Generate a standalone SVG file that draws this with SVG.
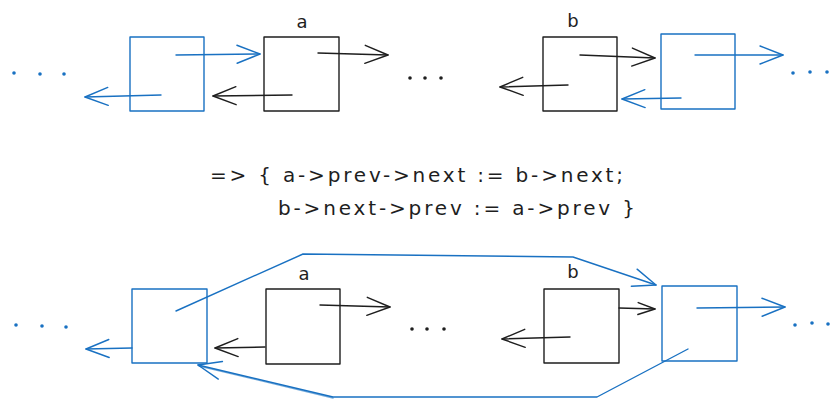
<svg xmlns="http://www.w3.org/2000/svg" width="830" height="400" viewBox="0 0 830 400">
  <style>
    .blue { stroke: #1971c2; fill: none; stroke-width: 1.4; stroke-linecap: round; stroke-linejoin: round; }
    .ink { stroke: #1e1e1e; fill: none; stroke-width: 1.4; stroke-linecap: round; stroke-linejoin: round; }
    .dotb { fill: #1971c2; }
    .dotk { fill: #1e1e1e; }
    .lbl { font-family: "DejaVu Sans", "Liberation Sans", sans-serif; font-size: 18px; fill: #1e1e1e; }
    .code { font-family: "DejaVu Sans", "Liberation Sans", sans-serif; font-size: 20px; fill: #1e1e1e; }
  </style>
  <defs>
    <marker id="hb" markerUnits="userSpaceOnUse" markerWidth="30" markerHeight="24" refX="0" refY="0" viewBox="-26 -12 30 24" orient="auto" overflow="visible">
      <path d="M -23 -9 L 0 0 L -23 9" stroke="#1971c2" fill="none" stroke-width="1.4" stroke-linecap="round" stroke-linejoin="round"/>
    </marker>
    <marker id="hk" markerUnits="userSpaceOnUse" markerWidth="30" markerHeight="24" refX="0" refY="0" viewBox="-26 -12 30 24" orient="auto" overflow="visible">
      <path d="M -23 -9 L 0 0 L -23 9" stroke="#1e1e1e" fill="none" stroke-width="1.4" stroke-linecap="round" stroke-linejoin="round"/>
    </marker>
    <marker id="hks" markerUnits="userSpaceOnUse" markerWidth="24" markerHeight="16" refX="0" refY="0" viewBox="-20 -8 24 16" orient="auto" overflow="visible">
      <path d="M -17 -6 L 0 0 L -17 6" stroke="#1e1e1e" fill="none" stroke-width="1.4" stroke-linecap="round" stroke-linejoin="round"/>
    </marker>
  </defs>

  <!-- top row: list before unlinking -->
  <g id="top-dots-left">
    <circle class="dotb" cx="14" cy="73" r="1.8"/>
    <circle class="dotb" cx="40" cy="74" r="1.8"/>
    <circle class="dotb" cx="64" cy="74" r="1.8"/>
  </g>
  <g id="top-prev-node">
    <rect class="blue" x="130" y="37" width="74" height="74"/>
  </g>
  <g id="top-node-a">
    <rect class="ink" x="264" y="37" width="75" height="74"/>
    <text class="lbl" x="302" y="28" text-anchor="middle">a</text>
  </g>
  <g id="top-dots-mid">
    <circle class="dotk" cx="410" cy="78" r="1.8"/>
    <circle class="dotk" cx="425" cy="78" r="1.8"/>
    <circle class="dotk" cx="441" cy="78" r="1.8"/>
  </g>
  <g id="top-node-b">
    <rect class="ink" x="543" y="37" width="74" height="74"/>
    <text class="lbl" x="573" y="27" text-anchor="middle">b</text>
  </g>
  <g id="top-next-node">
    <rect class="blue" x="661" y="34" width="74" height="75"/>
  </g>
  <g id="top-dots-right">
    <circle class="dotb" cx="793" cy="73" r="1.8"/>
    <circle class="dotb" cx="810" cy="72" r="1.8"/>
    <circle class="dotb" cx="827" cy="72" r="1.8"/>
  </g>
  <g id="top-connectors">
    <path class="blue" d="M 176 55 L 260 54" marker-end="url(#hb)"/>
    <path class="blue" d="M 161 95 L 85 97" marker-end="url(#hb)"/>
    <path class="ink" d="M 318 53 L 388 55" marker-end="url(#hk)"/>
    <path class="ink" d="M 292 95 L 213 96" marker-end="url(#hk)"/>
    <path class="ink" d="M 580 55 L 655 58" marker-end="url(#hk)"/>
    <path class="ink" d="M 568 85 L 500 87" marker-end="url(#hk)"/>
    <path class="blue" d="M 695 55 L 783 55" marker-end="url(#hb)"/>
    <path class="blue" d="M 681 98 L 622 99" marker-end="url(#hb)"/>
  </g>

  <!-- the unlink operation -->
  <g id="code">
    <text class="code" x="210" y="182" textLength="413" lengthAdjust="spacing">=&gt; { a-&gt;prev-&gt;next := b-&gt;next;</text>
    <text class="code" x="278" y="215" textLength="357" lengthAdjust="spacing">b-&gt;next-&gt;prev := a-&gt;prev }</text>
  </g>

  <!-- bottom row: list after unlinking -->
  <g id="bot-dots-left">
    <circle class="dotb" cx="16" cy="325" r="1.8"/>
    <circle class="dotb" cx="42" cy="326" r="1.8"/>
    <circle class="dotb" cx="66" cy="327" r="1.8"/>
  </g>
  <g id="bot-prev-node">
    <rect class="blue" x="132" y="289" width="75" height="74"/>
  </g>
  <g id="bot-node-a">
    <rect class="ink" x="266" y="289" width="74" height="75"/>
    <text class="lbl" x="304" y="280" text-anchor="middle">a</text>
  </g>
  <g id="bot-dots-mid">
    <circle class="dotk" cx="412" cy="329" r="1.8"/>
    <circle class="dotk" cx="427" cy="329" r="1.8"/>
    <circle class="dotk" cx="444" cy="329" r="1.8"/>
  </g>
  <g id="bot-node-b">
    <rect class="ink" x="544" y="289" width="75" height="74"/>
    <text class="lbl" x="573" y="278" text-anchor="middle">b</text>
  </g>
  <g id="bot-next-node">
    <rect class="blue" x="662" y="286" width="75" height="75"/>
  </g>
  <g id="bot-dots-right">
    <circle class="dotb" cx="795" cy="325" r="1.8"/>
    <circle class="dotb" cx="812" cy="323" r="1.8"/>
    <circle class="dotb" cx="828" cy="324" r="1.8"/>
  </g>
  <g id="bot-connectors">
    <path class="blue" d="M 132 348 L 86 349" marker-end="url(#hb)"/>
    <path class="blue" d="M 176 311 L 303 254 L 573 257 L 656 285" marker-end="url(#hb)"/>
    <path class="blue" d="M 688 349 L 597 397 L 333 397 L 198 365" marker-end="url(#hb)"/>
    <path class="blue" d="M 333 398 L 199 366" stroke-opacity="0.6"/>
    <path class="ink" d="M 320 305 L 390 307" marker-end="url(#hk)"/>
    <path class="ink" d="M 265 347 L 215 348" marker-end="url(#hk)"/>
    <path class="ink" d="M 619 308 L 655 309" marker-end="url(#hks)"/>
    <path class="ink" d="M 570 337 L 502 339" marker-end="url(#hk)"/>
    <path class="blue" d="M 697 308 L 785 307" marker-end="url(#hb)"/>
  </g>
</svg>
